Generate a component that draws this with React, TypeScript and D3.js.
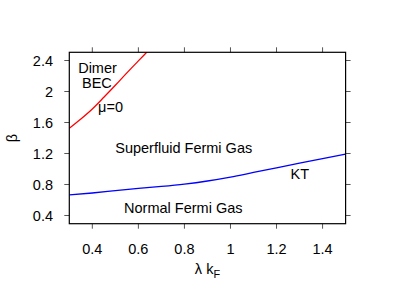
import React from "react";
import * as d3 from "d3";

const xTicks = [0.4, 0.6, 0.8, 1.0, 1.2, 1.4];
const yTicks = [0.4, 0.8, 1.2, 1.6, 2.0, 2.4];

const muZeroX = [0.3, 0.35, 0.4, 0.45, 0.5, 0.55, 0.6, 0.65];
const muZeroY = [1.525, 1.645, 1.775, 1.925, 2.08, 2.24, 2.395, 2.55];

const ktX = [0.3, 0.4, 0.5, 0.6, 0.7, 0.8, 0.9, 1.0, 1.1, 1.2, 1.3, 1.4, 1.5];
const ktY = [0.665, 0.69, 0.72, 0.75, 0.775, 0.805, 0.845, 0.895, 0.955, 1.015, 1.075, 1.135, 1.192];

const labelText = ["Dimer", "BEC", "μ=0", "Superfluid Fermi Gas", "Normal Fermi Gas", "KT"];
const labelX = [0.4225, 0.42, 0.479, 0.797, 0.795, 1.301];
const labelY = [2.303, 2.11, 1.806, 1.271, 0.497, 0.944];

const W = 415;
const H = 291;
const L = 69.3, R = 345.6, T = 52.3, B = 223.7;
const FONT = "'Liberation Sans', Arial, Helvetica, sans-serif";
const FS = 14.5;

export default function App() {
  const xs = d3.scaleLinear().domain([0.3, 1.5]).range([L, R]);
  const ys = d3.scaleLinear().domain([0.294, 2.506]).range([B, T]);
  const line = d3
    .line<[number, number]>()
    .x((d) => xs(d[0]))
    .y((d) => ys(d[1]))
    .curve(d3.curveMonotoneX);
  const redPts = muZeroX.map((x, i) => [x, muZeroY[i]] as [number, number]);
  const bluePts = ktX.map((x, i) => [x, ktY[i]] as [number, number]);
  const tl = 5;
  const tickColor = "#555";
  return (
    <svg
      width={W}
      height={H}
      style={{ position: "absolute", left: 0, top: 0, background: "#fff" }}
      fontFamily={FONT}
    >
      <defs>
        <clipPath id="plotclip">
          <rect x={L} y={T} width={R - L} height={B - T} />
        </clipPath>
      </defs>
      {xTicks.map((t) => (
        <g key={"x" + t}>
          <line x1={xs(t)} x2={xs(t)} y1={B} y2={B + tl} stroke={tickColor} strokeWidth={1} />
          <line x1={xs(t)} x2={xs(t)} y1={T} y2={T - tl} stroke={tickColor} strokeWidth={1} />
          <text x={xs(t)} y={254} textAnchor="middle" fontSize={FS} fill="#000">
            {String(t)}
          </text>
        </g>
      ))}
      {yTicks.map((t) => (
        <g key={"y" + t}>
          <line x1={L} x2={L - tl} y1={ys(t)} y2={ys(t)} stroke={tickColor} strokeWidth={1} />
          <line x1={R} x2={R + tl} y1={ys(t)} y2={ys(t)} stroke={tickColor} strokeWidth={1} />
          <text x={53} y={ys(t)} dy="0.36em" textAnchor="end" fontSize={FS} fill="#000">
            {String(t)}
          </text>
        </g>
      ))}
      <g clipPath="url(#plotclip)">
        <path d={line(redPts) || ""} fill="none" stroke="#ff0000" strokeWidth={1.3} />
        <path d={line(bluePts) || ""} fill="none" stroke="#0000ff" strokeWidth={1.3} />
      </g>
      <rect x={L} y={T} width={R - L} height={B - T} fill="none" stroke="#000" strokeWidth={1.2} />
      {labelText.map((s, i) => (
        <text
          key={s}
          x={xs(labelX[i])}
          y={ys(labelY[i])}
          dy="0.36em"
          textAnchor="middle"
          fontSize={FS}
          fill="#000"
        >
          {s}
        </text>
      ))}
      <text x={(L + R) / 2} y={274} textAnchor="middle" fontSize={FS} fill="#000">
        λ k<tspan fontSize={FS * 0.75} dy={4}>F</tspan>
      </text>
      <text
        transform={`translate(17, ${(T + B) / 2}) rotate(-90)`}
        textAnchor="middle"
        fontSize={FS}
        fill="#000"
      >
        β
      </text>
    </svg>
  );
}
